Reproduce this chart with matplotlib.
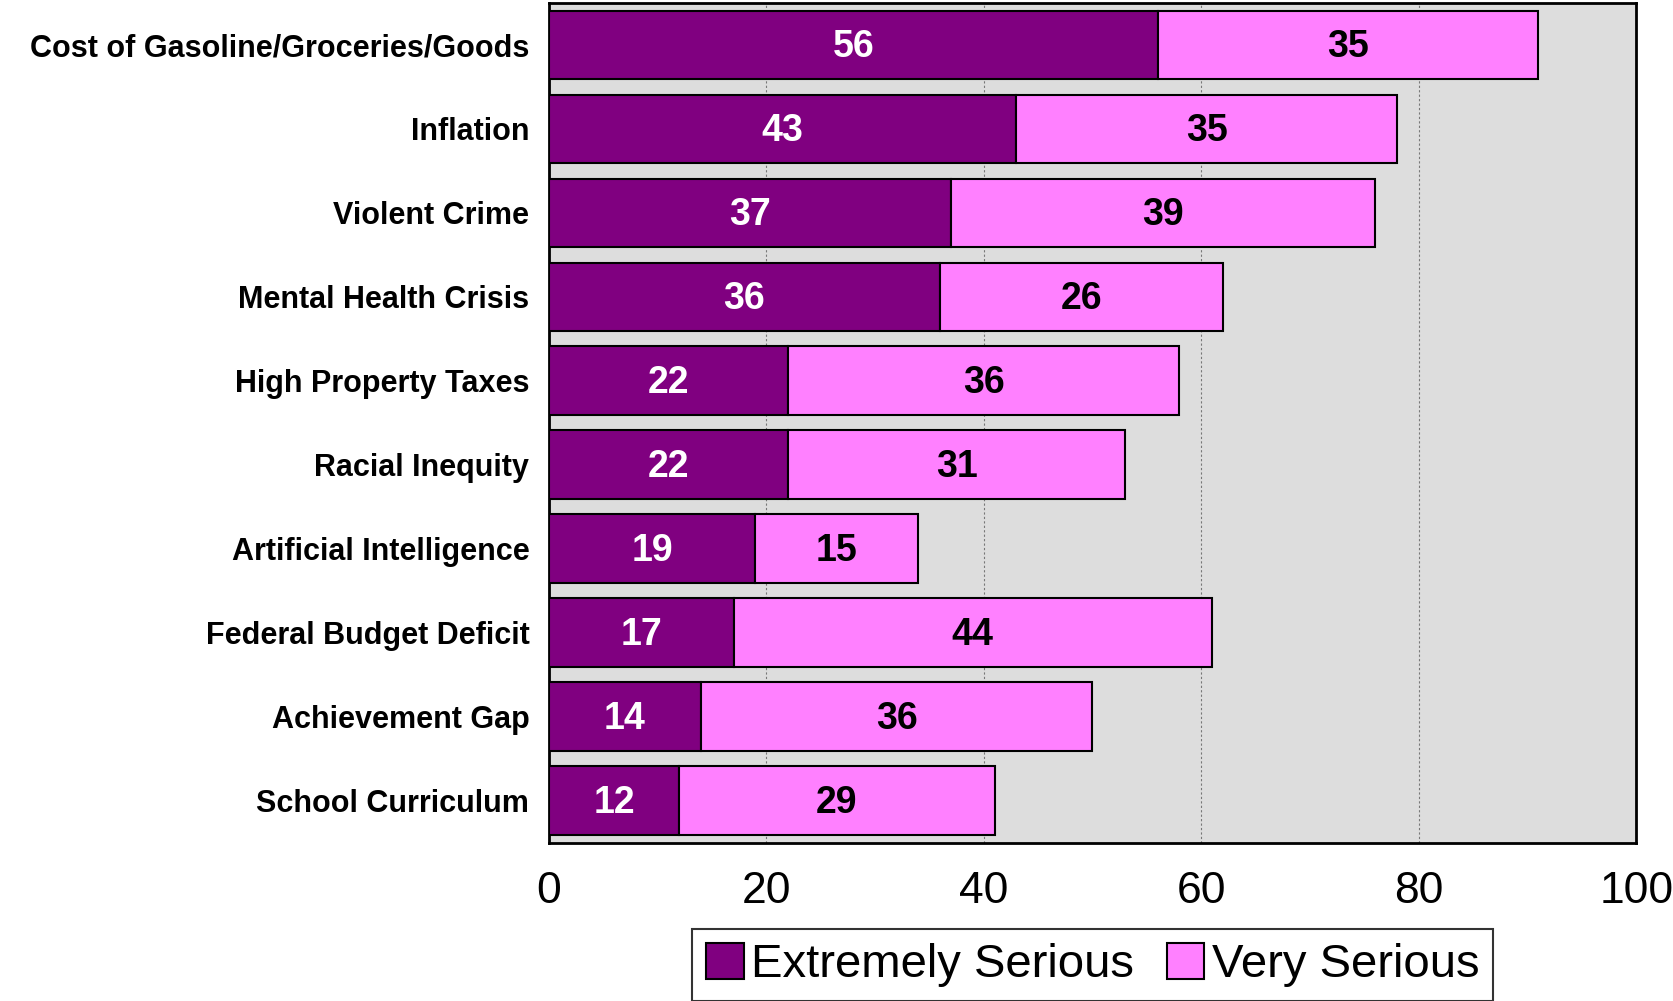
import numpy as np
import matplotlib.pyplot as plt

categories = ['Cost of Gasoline/Groceries/Goods', 'Inflation', 'Violent Crime',
              'Mental Health Crisis', 'High Property Taxes', 'Racial Inequity',
              'Artificial Intelligence', 'Federal Budget Deficit', 'Achievement Gap',
              'School Curriculum']
extremely = [56, 43, 37, 36, 22, 22, 19, 17, 14, 12]
very = [35, 35, 39, 26, 36, 31, 15, 44, 36, 29]
xticks = [0, 20, 40, 60, 80, 100]

plt.rcParams['font.family'] = ['Liberation Sans', 'DejaVu Sans']

fig = plt.figure(figsize=(16.73, 10.01), dpi=100)
ax = fig.add_axes([0.328, 0.158, 0.65, 0.839])
ax.set_facecolor('#DDDDDD')

y = np.arange(len(categories))
ext = np.array(extremely)
ver = np.array(very)

b1 = ax.barh(y, ext, height=0.82, color='#800080', edgecolor='black', linewidth=1.5,
             label='Extremely Serious', zorder=3)
b2 = ax.barh(y, ver, left=ext, height=0.82, color='#FF80FF', edgecolor='black',
             linewidth=1.5, label='Very Serious', zorder=3)

# value labels inside each segment
for i in range(len(categories)):
    ax.text(ext[i] / 2, y[i] + 0.02, str(ext[i]), ha='center', va='center', color='white',
            fontsize=27, fontweight='bold', zorder=4)
    ax.text(ext[i] + ver[i] / 2, y[i] + 0.02, str(ver[i]), ha='center', va='center',
            color='black', fontsize=27, fontweight='bold', zorder=4)

ax.set_xlim(0, 100)
ax.set_ylim(len(categories) - 0.5, -0.5)
ax.set_xticks(xticks)
ax.set_xticklabels([str(t) for t in xticks], fontsize=32)
ax.set_yticks(y)
ax.set_yticklabels(categories, fontsize=22, fontweight='bold')
ax.tick_params(axis='both', length=0)
ax.tick_params(axis='x', pad=20)
ax.tick_params(axis='y', pad=14)

ax.grid(axis='x', color='#777777', linestyle=(0, (2, 2)), linewidth=0.8, zorder=1)
for s in ax.spines.values():
    s.set_linewidth(2)
    s.set_color('black')

leg = fig.legend(handles=[b1, b2], loc='center', bbox_to_anchor=(0.653, 0.036), ncol=2,
                 fontsize=34, frameon=True, fancybox=False, edgecolor='black',
                 handlelength=0.8, handleheight=0.8, handletextpad=0.15,
                 columnspacing=0.7, borderpad=0.3, borderaxespad=0)
leg.get_frame().set_linewidth(1.5)

fig.savefig('out.png', dpi=100)
